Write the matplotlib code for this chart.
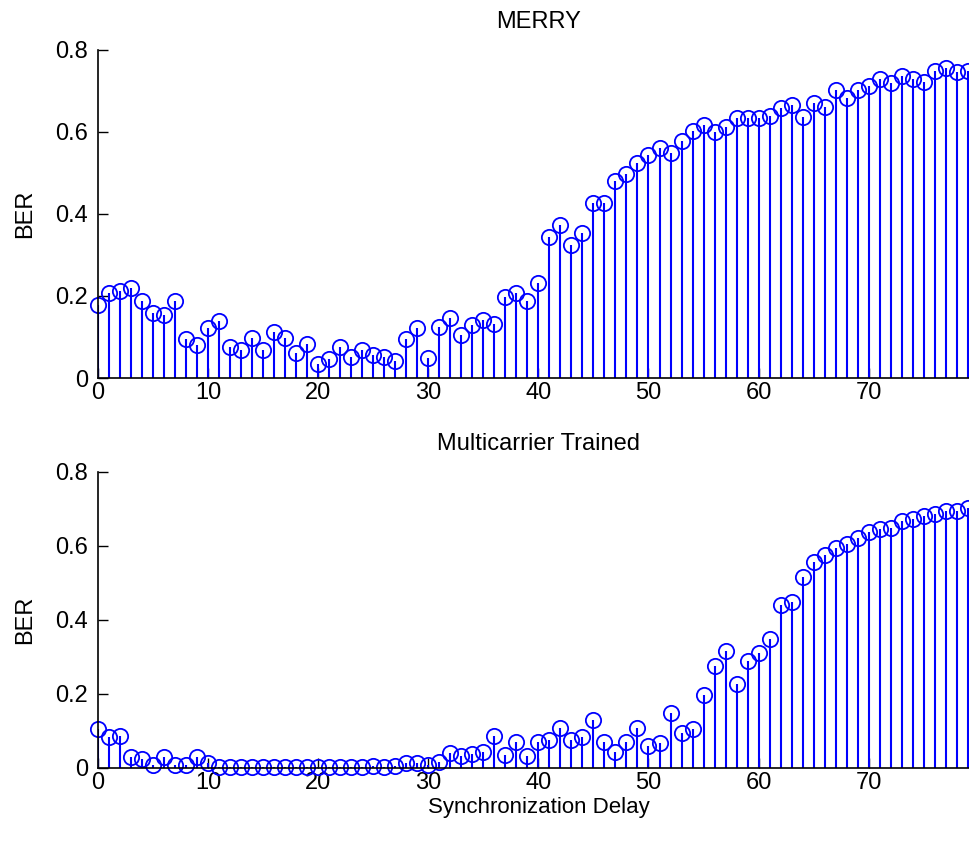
import numpy as np
import matplotlib
matplotlib.use("Agg")
import matplotlib.pyplot as plt
from matplotlib.ticker import FuncFormatter

# synchronization delay 0..79
delay = np.arange(80)

ber_merry = [
    0.178, 0.207, 0.213, 0.219, 0.188, 0.159, 0.154, 0.189, 0.095, 0.080,
    0.121, 0.139, 0.076, 0.068, 0.097, 0.068, 0.113, 0.097, 0.062, 0.083,
    0.033, 0.046, 0.076, 0.052, 0.068, 0.056, 0.052, 0.042, 0.094, 0.121,
    0.048, 0.125, 0.146, 0.105, 0.129, 0.141, 0.132, 0.198, 0.207, 0.188,
    0.232, 0.344, 0.372, 0.324, 0.353, 0.426, 0.428, 0.481, 0.498, 0.524,
    0.544, 0.560, 0.548, 0.579, 0.603, 0.617, 0.601, 0.613, 0.633, 0.634,
    0.635, 0.640, 0.658, 0.666, 0.637, 0.670, 0.662, 0.702, 0.682, 0.702,
    0.711, 0.729, 0.720, 0.737, 0.729, 0.723, 0.750, 0.755, 0.747, 0.750,
]

ber_mc_trained = [
    0.105, 0.083, 0.086, 0.029, 0.024, 0.008, 0.031, 0.008, 0.008, 0.031,
    0.013, 0.004, 0.004, 0.004, 0.004, 0.002, 0.002, 0.002, 0.002, 0.002,
    0.002, 0.002, 0.002, 0.002, 0.004, 0.006, 0.004, 0.006, 0.013, 0.013,
    0.008, 0.017, 0.040, 0.032, 0.038, 0.044, 0.086, 0.035, 0.071, 0.032,
    0.071, 0.076, 0.107, 0.076, 0.085, 0.130, 0.071, 0.044, 0.071, 0.107,
    0.059, 0.067, 0.148, 0.094, 0.105, 0.197, 0.277, 0.315, 0.228, 0.290,
    0.312, 0.348, 0.440, 0.450, 0.517, 0.558, 0.575, 0.595, 0.605, 0.622,
    0.637, 0.645, 0.650, 0.667, 0.673, 0.680, 0.687, 0.694, 0.695, 0.702,
]

xticks = [0, 10, 20, 30, 40, 50, 60, 70]
yticks = [0, 0.2, 0.4, 0.6, 0.8]

plt.rcParams['font.family'] = ['Liberation Sans', 'DejaVu Sans']
FS = 17


def stem_panel(ax, y, title):
    markers, stems, base = ax.stem(delay, y, linefmt='b-', markerfmt='bo', basefmt=' ')
    markers.set_markerfacecolor('none')
    markers.set_markeredgecolor('#0000ff')
    markers.set_markersize(11)
    markers.set_markeredgewidth(1.3)
    markers.set_clip_on(False)
    stems.set_color('#0000ff')
    stems.set_linewidth(1.5)
    ax.set_xlim(0, 80)
    ax.set_ylim(0, 0.8)
    ax.set_xticks(xticks)
    ax.set_yticks(yticks)
    ax.yaxis.set_major_formatter(FuncFormatter(lambda v, p: '0' if v == 0 else '%g' % v))
    ax.tick_params(direction='in', length=7, width=1, labelsize=FS, colors='black')
    ax.tick_params(axis='y', pad=7)
    ax.tick_params(axis='x', pad=3)
    ax.spines['top'].set_visible(False)
    ax.spines['right'].set_visible(False)
    ax.spines['left'].set_linewidth(1.2)
    ax.spines['bottom'].set_linewidth(1.2)
    ax.set_title(title, fontsize=FS, pad=16)
    ax.set_ylabel('BER', fontsize=FS, labelpad=14)


fig = plt.figure(figsize=(9.70, 8.41), dpi=100)
ax1 = fig.add_axes([98 / 970, 1 - 378 / 841, 80 * 11.01 / 970, 328 / 841])
ax2 = fig.add_axes([98 / 970, 1 - 768 / 841, 80 * 11.01 / 970, 296 / 841])

stem_panel(ax1, ber_merry, 'MERRY')
stem_panel(ax2, ber_mc_trained, 'Multicarrier Trained')
ax2.set_xlabel('Synchronization Delay', fontsize=16, labelpad=2)

fig.savefig('out.png', dpi=100)
